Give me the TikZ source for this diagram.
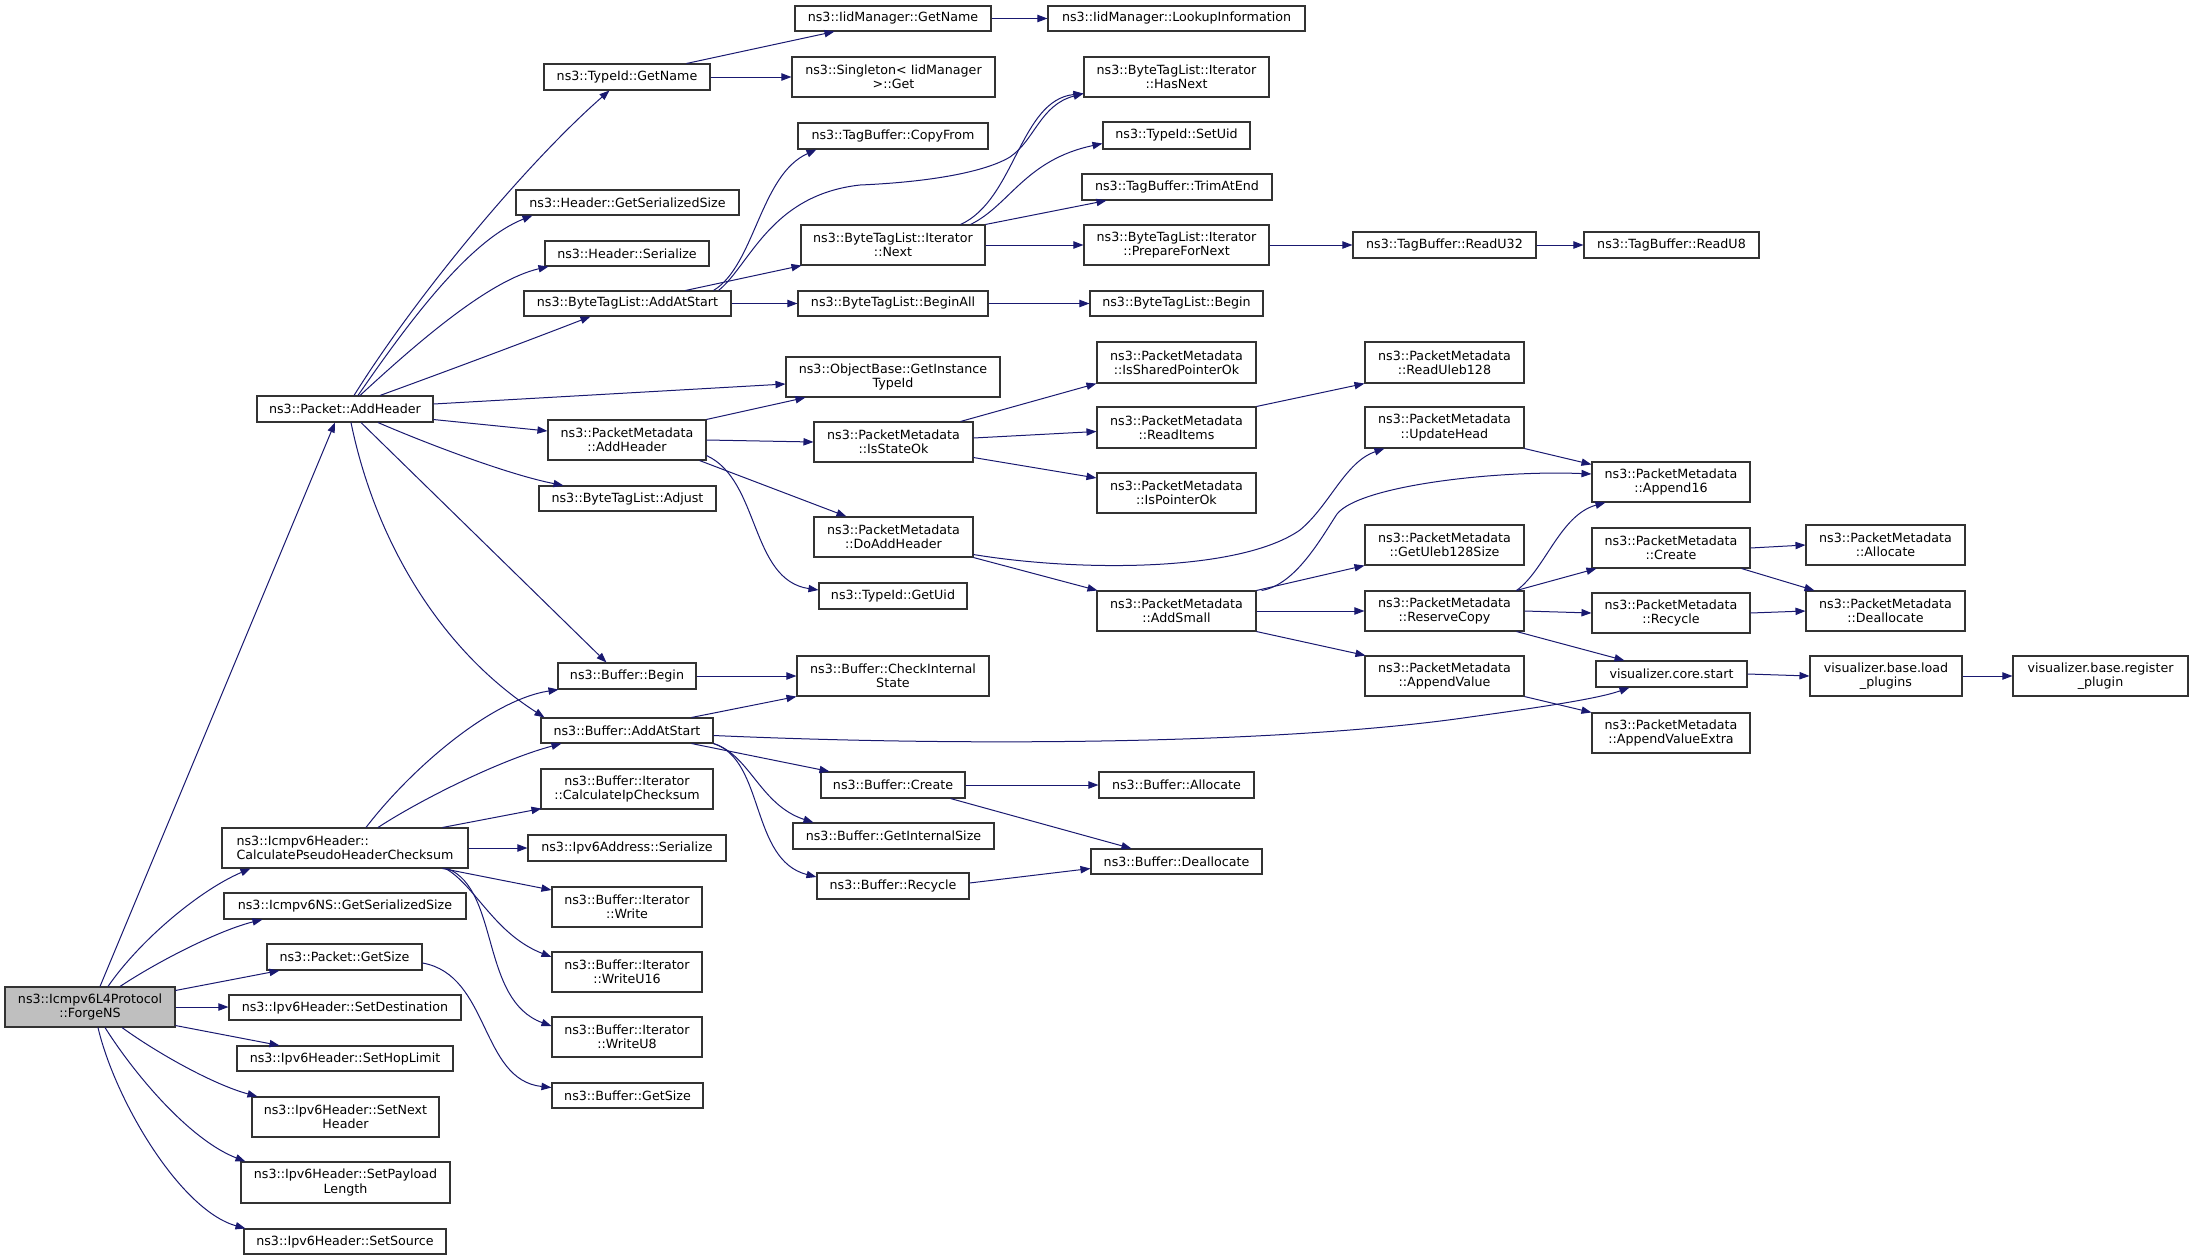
\documentclass[tikz,border=0pt]{standalone}
\usepackage{fontspec}
\setmainfont{DejaVu Sans}
\usetikzlibrary{arrows.meta,calc}
\definecolor{edgec}{HTML}{191970}
\definecolor{boxc}{HTML}{333333}
\definecolor{rootc}{HTML}{BFBFBF}
\tikzset{
  box/.style={draw=boxc,line width=0.8pt,fill=white,inner sep=0pt,align=center,
    font=\fontsize{9.5}{10.7}\selectfont},
  e/.style={draw=edgec,line width=0.75pt,-{Triangle[length=7.5pt,width=5.5pt]}}
}
\newcommand\bx[7][]{\node[box,#1,minimum width={(#5-#3)*0.75pt},minimum height={(#6-#4)*0.75pt}] (#2) at ({(#3+#5)/2},{(#4+#6)/2}) {#7};}
\begin{document}
\begin{tikzpicture}[x=0.75pt,y=-0.75pt]
\useasboundingbox (0,0) rectangle (2193,1260);
% column 1
\bx[fill=rootc]{forge}{5}{987}{175}{1027}{ns3::Icmpv6L4Protocol\\::ForgeNS}
% column 2
\bx{pktAdd}{257}{396}{433}{422}{ns3::Packet::AddHeader}
\bx[align=left]{calcPseudo}{222}{828}{468}{868}{ns3::Icmpv6Header::\\CalculatePseudoHeaderChecksum}
\bx{icmpNSsize}{224}{893}{466}{919}{ns3::Icmpv6NS::GetSerializedSize}
\bx{pktGetSize}{267}{944}{422}{970}{ns3::Packet::GetSize}
\bx{setDest}{229}{995}{461}{1020}{ns3::Ipv6Header::SetDestination}
\bx{setHop}{237}{1046}{453}{1071}{ns3::Ipv6Header::SetHopLimit}
\bx{setNext}{252}{1097}{439}{1137}{ns3::Ipv6Header::SetNext\\Header}
\bx{setPayload}{241}{1162}{450}{1203}{ns3::Ipv6Header::SetPayload\\Length}
\bx{setSource}{244}{1229}{446}{1254}{ns3::Ipv6Header::SetSource}
% column 3
\bx{typeGetName}{544}{64}{710}{90}{ns3::TypeId::GetName}
\bx{hdrSize}{516}{190}{739}{215}{ns3::Header::GetSerializedSize}
\bx{hdrSer}{545}{241}{709}{266}{ns3::Header::Serialize}
\bx{btlAddAtStart}{524}{291}{731}{316}{ns3::ByteTagList::AddAtStart}
\bx{pmAddHeader}{548}{420}{706}{460}{ns3::PacketMetadata\\::AddHeader}
\bx{btlAdjust}{539}{486}{716}{511}{ns3::ByteTagList::Adjust}
\bx{bufBegin}{558}{663}{696}{689}{ns3::Buffer::Begin}
\bx{bufAddAtStart}{541}{718}{713}{743}{ns3::Buffer::AddAtStart}
\bx{calcIp}{541}{769}{713}{809}{ns3::Buffer::Iterator\\::CalculateIpChecksum}
\bx{vSer}{528}{835}{726}{861}{ns3::Ipv6Address::Serialize}
\bx{itWrite}{552}{887}{702}{927}{ns3::Buffer::Iterator\\::Write}
\bx{itWriteU16}{552}{952}{702}{992}{ns3::Buffer::Iterator\\::WriteU16}
\bx{itWriteU8}{552}{1017}{702}{1057}{ns3::Buffer::Iterator\\::WriteU8}
\bx{bufGetSize}{552}{1083}{703}{1108}{ns3::Buffer::GetSize}
% column 4
\bx{iidGetName}{795}{6}{991}{31}{ns3::IidManager::GetName}
\bx{singleton}{792}{57}{995}{97}{ns3::Singleton< IidManager\\>::Get}
\bx{copyFrom}{798}{123}{988}{149}{ns3::TagBuffer::CopyFrom}
\bx{itNext}{801}{225}{985}{265}{ns3::ByteTagList::Iterator\\::Next}
\bx{beginAll}{798}{291}{988}{316}{ns3::ByteTagList::BeginAll}
\bx{getInstTid}{786}{357}{1000}{397}{ns3::ObjectBase::GetInstance\\TypeId}
\bx{isStateOk}{814}{422}{973}{462}{ns3::PacketMetadata\\::IsStateOk}
\bx{doAddHeader}{814}{517}{973}{557}{ns3::PacketMetadata\\::DoAddHeader}
\bx{getUid}{819}{583}{967}{609}{ns3::TypeId::GetUid}
\bx{checkInternal}{797}{656}{989}{696}{ns3::Buffer::CheckInternal\\State}
\bx{bufCreate}{821}{772}{965}{798}{ns3::Buffer::Create}
\bx{bufGetInternalSize}{793}{823}{994}{849}{ns3::Buffer::GetInternalSize}
\bx{bufRecycle}{817}{873}{969}{899}{ns3::Buffer::Recycle}
% column 5
\bx{lookup}{1048}{6}{1305}{31}{ns3::IidManager::LookupInformation}
\bx{hasNext}{1084}{57}{1269}{97}{ns3::ByteTagList::Iterator\\::HasNext}
\bx{setUid}{1103}{122}{1250}{149}{ns3::TypeId::SetUid}
\bx{trimAtEnd}{1082}{174}{1272}{200}{ns3::TagBuffer::TrimAtEnd}
\bx{prepNext}{1084}{225}{1269}{265}{ns3::ByteTagList::Iterator\\::PrepareForNext}
\bx{btlBegin}{1090}{291}{1263}{316}{ns3::ByteTagList::Begin}
\bx{isShared}{1097}{342}{1256}{383}{ns3::PacketMetadata\\::IsSharedPointerOk}
\bx{readItems}{1097}{407}{1256}{448}{ns3::PacketMetadata\\::ReadItems}
\bx{isPointerOk}{1097}{473}{1256}{513}{ns3::PacketMetadata\\::IsPointerOk}
\bx{addSmall}{1097}{591}{1256}{631}{ns3::PacketMetadata\\::AddSmall}
\bx{bufAllocate}{1099}{772}{1254}{798}{ns3::Buffer::Allocate}
\bx{bufDealloc}{1091}{849}{1262}{874}{ns3::Buffer::Deallocate}
% column 6
\bx{readU32}{1353}{232}{1536}{258}{ns3::TagBuffer::ReadU32}
\bx{readUleb}{1365}{342}{1524}{383}{ns3::PacketMetadata\\::ReadUleb128}
\bx{updateHead}{1365}{407}{1524}{448}{ns3::PacketMetadata\\::UpdateHead}
\bx{getUleb}{1365}{525}{1524}{565}{ns3::PacketMetadata\\::GetUleb128Size}
\bx{reserveCopy}{1365}{591}{1524}{631}{ns3::PacketMetadata\\::ReserveCopy}
\bx{appendValue}{1365}{656}{1524}{696}{ns3::PacketMetadata\\::AppendValue}
% column 7
\bx{readU8}{1584}{232}{1759}{258}{ns3::TagBuffer::ReadU8}
\bx{append16}{1592}{462}{1750}{502}{ns3::PacketMetadata\\::Append16}
\bx{pmCreate}{1592}{528}{1750}{568}{ns3::PacketMetadata\\::Create}
\bx{pmRecycle}{1592}{593}{1750}{633}{ns3::PacketMetadata\\::Recycle}
\bx{coreStart}{1596}{661}{1747}{687}{visualizer.core.start}
\bx{appendValueExtra}{1592}{713}{1750}{753}{ns3::PacketMetadata\\::AppendValueExtra}
% column 8-9
\bx{pmAllocate}{1806}{525}{1965}{565}{ns3::PacketMetadata\\::Allocate}
\bx{pmDealloc}{1806}{591}{1965}{631}{ns3::PacketMetadata\\::Deallocate}
\bx{loadPlugins}{1810}{656}{1962}{696}{visualizer.base.load\\\_plugins}
\bx{register}{2013}{656}{2188}{696}{visualizer.base.register\\\_plugin}

% ---- edges from ForgeNS
\draw[e] ($(forge.north)+(10,0)$) -- ($(pktAdd.south)+(-10,0)$);
\draw[e] ($(forge.north)+(18,0)$) .. controls (140,940) and (200,890) .. ($(calcPseudo.south west)+(29,0)$);
\draw[e] ($(forge.north)+(30,0)$) .. controls (160,960) and (220,930) .. ($(icmpNSsize.south west)+(39,0)$);
\draw[e] ($(forge.north east)+(0,4)$) -- ($(pktGetSize.south west)+(13,0)$);
\draw[e] (forge.east) -- (forge.east -| setDest.west);
\draw[e] ($(forge.south east)+(0,-2)$) -- ($(setHop.north west)+(43,0)$);
\draw[e] ($(forge.south)+(32,0)$) .. controls (160,1055) and (215,1085) .. ($(setNext.north west)+(6,0)$);
\draw[e] ($(forge.south)+(15,0)$) .. controls (135,1075) and (190,1140) .. ($(setPayload.north west)+(5,0)$);
\draw[e] ($(forge.south)+(8,0)$) .. controls (115,1100) and (180,1210) .. ($(setSource.north west)+(2,0)$);
% ---- edges from Packet::AddHeader
\draw[e] ($(pktAdd.north)+(9,0)$) .. controls (420,290) and (530,160) .. ($(typeGetName.south west)+(66,0)$);
\draw[e] ($(pktAdd.north)+(13,0)$) .. controls (410,320) and (470,240) .. ($(hdrSize.south west)+(17,0)$);
\draw[e] ($(pktAdd.north)+(15,0)$) .. controls (420,340) and (490,280) .. ($(hdrSer.south west)+(4,0)$);
\draw[e] ($(pktAdd.north)+(35,0)$) .. controls (450,370) and (530,340) .. ($(btlAddAtStart.south west)+(67,0)$);
\draw[e] ($(pktAdd.east)+(0,-5)$) -- ($(getInstTid.west)+(0,7)$);
\draw[e] ($(pktAdd.south east)+(0,-3)$) -- ($(pmAddHeader.west)+(0,-9)$);
\draw[e] ($(pktAdd.south)+(33,0)$) .. controls (430,445) and (510,475) .. ($(btlAdjust.north west)+(25,0)$);
\draw[e] ($(pktAdd.south)+(16,0)$) -- ($(bufBegin.north west)+(49,0)$);
\draw[e] ($(pktAdd.south)+(6,0)$) .. controls (375,540) and (440,650) .. ($(bufAddAtStart.north west)+(4,0)$);
% ---- TypeId::GetName
\draw[e] ($(typeGetName.north east)+(-24,0)$) -- ($(iidGetName.south west)+(40,0)$);
\draw[e] (typeGetName.east) -- (typeGetName.east -| singleton.west);
\draw[e] (iidGetName.east) -- (lookup.west);
% ---- ByteTagList::AddAtStart
\draw[e] ($(btlAddAtStart.north east)+(-18,0)$) .. controls (755,265) and (760,175) .. ($(copyFrom.south west)+(19,0)$);
\draw[e] ($(btlAddAtStart.north east)+(-13,0)$) .. controls (750,265) and (770,195) .. (860,185)
   .. controls (930,182) and (985,172) .. (1010,157) .. controls (1035,140) and (1040,105) .. ($(hasNext.south west)+(0,-4)$);
\draw[e] ($(btlAddAtStart.north east)+(-46,0)$) -- ($(itNext.south west)+(1,0)$);
\draw[e] (btlAddAtStart.east) -- (btlAddAtStart.east -| beginAll.west);
% ---- Iterator::Next
\draw[e] ($(itNext.north east)+(-25,0)$) .. controls (1015,200) and (1020,100) .. ($(hasNext.south west)+(0,-4)$);
\draw[e] ($(itNext.north east)+(-15,0)$) .. controls (1010,205) and (1025,160) .. ($(setUid.west)+(0,8)$);
\draw[e] (itNext.north east) -- ($(trimAtEnd.south west)+(25,0)$);
\draw[e] (itNext.east) -- (prepNext.west);
\draw[e] (prepNext.east) -- (readU32.west);
\draw[e] (readU32.east) -- (readU8.west);
\draw[e] (beginAll.east) -- (btlBegin.west);
% ---- PacketMetadata::AddHeader
\draw[e] (pmAddHeader.north east) -- ($(getInstTid.south west)+(20,0)$);
\draw[e] (pmAddHeader.east) -- (isStateOk.west);
\draw[e] ($(pmAddHeader.south east)+(-7,0)$) -- ($(doAddHeader.north west)+(33,0)$);
\draw[e] ($(pmAddHeader.south east)+(0,-5)$) .. controls (760,480) and (750,580) .. ($(getUid.west)+(0,-6)$);
% ---- IsStateOk
\draw[e] ($(isStateOk.north east)+(-13,0)$) -- (isShared.south west);
\draw[e] ($(isStateOk.east)+(0,-4)$) -- ($(readItems.west)+(0,4)$);
\draw[e] ($(isStateOk.south east)+(0,-5)$) -- ($(isPointerOk.west)+(0,-15)$);
\draw[e] (readItems.north east) -- (readUleb.south west);
% ---- DoAddHeader
\draw[e] ($(doAddHeader.south east)+(0,-3)$) .. controls (1080,572) and (1240,572) .. (1300,530)
   .. controls (1330,505) and (1345,462) .. ($(updateHead.south west)+(20,0)$);
\draw[e] (doAddHeader.south east) -- ($(addSmall.north west)+(1,0)$);
% ---- AddSmall
\draw[e] ($(addSmall.north east)+(5,0)$) .. controls (1295,585) and (1320,540) .. (1337,514)
   .. controls (1360,485) and (1500,470) .. ($(append16.west)+(0,-8)$);
\draw[e] (addSmall.north east) -- (getUleb.south west);
\draw[e] (addSmall.east) -- (addSmall.east -| reserveCopy.west);
\draw[e] (addSmall.south east) -- ($(appendValue.north west)+(1,0)$);
\draw[e] (updateHead.south east) -- ($(append16.north west)+(0,3)$);
% ---- ReserveCopy
\draw[e] ($(reserveCopy.north east)+(-8,0)$) .. controls (1545,570) and (1560,515) .. ($(append16.south west)+(14,0)$);
\draw[e] ($(reserveCopy.north east)+(-8,0)$) -- ($(pmCreate.south west)+(5,0)$);
\draw[e] (reserveCopy.east) -- (pmRecycle.west);
\draw[e] ($(reserveCopy.south east)+(-8,0)$) -- ($(coreStart.north west)+(29,0)$);
\draw[e] (pmCreate.east) -- (pmAllocate.west);
\draw[e] ($(pmCreate.south east)+(-9,0)$) -- ($(pmDealloc.north west)+(9,0)$);
\draw[e] (pmRecycle.east) -- (pmDealloc.west);
\draw[e] (appendValue.south east) -- (appendValueExtra.north west);
% ---- visualizer
\draw[e] ($(bufAddAtStart.east)+(0,5)$) .. controls (1000,748) and (1300,742) .. (1470,717)
   .. controls (1550,706) and (1600,698) .. ($(coreStart.south west)+(34,0)$);
\draw[e] (coreStart.east) -- (loadPlugins.west);
\draw[e] (loadPlugins.east) -- (register.west);
% ---- Buffer
\draw[e] (bufBegin.east) -- (bufBegin.east -| checkInternal.west);
\draw[e] ($(bufAddAtStart.north east)+(-22,0)$) -- (checkInternal.south west);
\draw[e] ($(bufAddAtStart.south east)+(-22,0)$) -- ($(bufCreate.north west)+(9,0)$);
\draw[e] (bufAddAtStart.south east) .. controls (750,755) and (760,805) .. ($(bufGetInternalSize.north west)+(21,0)$);
\draw[e] (bufAddAtStart.south east) .. controls (765,760) and (750,860) .. ($(bufRecycle.west)+(0,-9)$);
\draw[e] (bufCreate.east) -- (bufAllocate.west);
\draw[e] ($(bufCreate.south east)+(-15,0)$) -- ($(bufDealloc.north west)+(41,0)$);
\draw[e] ($(bufRecycle.east)+(0,-3)$) -- ($(bufDealloc.west)+(0,7)$);
% ---- CalculatePseudoHeaderChecksum
\draw[e] ($(calcPseudo.north)+(21,0)$) .. controls (410,770) and (490,700) .. ($(bufBegin.south west)+(1,0)$);
\draw[e] ($(calcPseudo.north)+(33,0)$) .. controls (420,800) and (500,760) .. ($(bufAddAtStart.south west)+(21,0)$);
\draw[e] ($(calcPseudo.north east)+(-26,0)$) -- ($(calcIp.south west)+(1,-1)$);
\draw[e] (calcPseudo.east) -- (calcPseudo.east -| vSer.west);
\draw[e] ($(calcPseudo.south east)+(-26,0)$) -- ($(itWrite.west)+(0,-17)$);
\draw[e] ($(calcPseudo.south east)+(-23,0)$) .. controls (475,885) and (495,935) .. ($(itWriteU16.west)+(0,-15)$);
\draw[e] ($(calcPseudo.south east)+(-21,0)$) .. controls (500,890) and (480,1000) .. ($(itWriteU8.west)+(0,-11)$);
\draw[e] ($(pktGetSize.east)+(0,6)$) .. controls (490,975) and (480,1080) .. ($(bufGetSize.west)+(0,-8)$);
\end{tikzpicture}
\end{document}
